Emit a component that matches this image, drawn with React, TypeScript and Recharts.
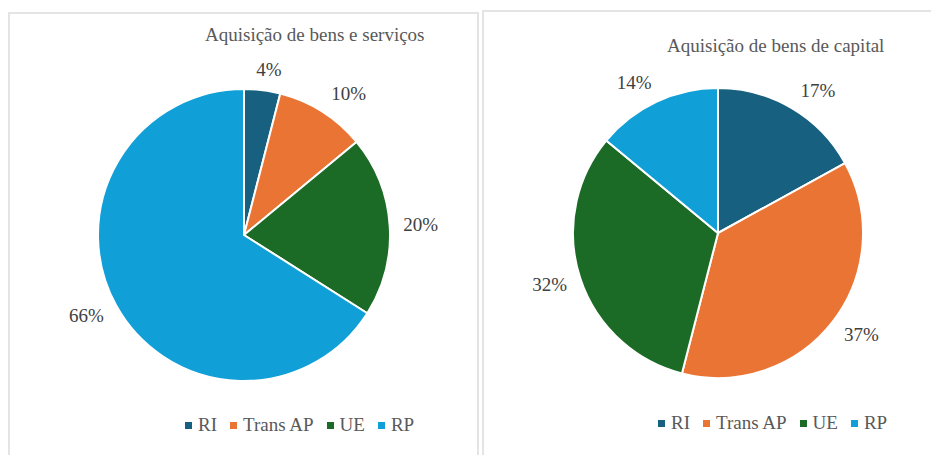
import React from "react";
import { PieChart, Pie, Cell, Legend } from "recharts";

const categories = ["RI", "Trans AP", "UE", "RP"];
const colors = ["#17607f", "#ea7434", "#1b6b26", "#119fd8"];
const servicosValues = [4, 10, 20, 66];
const capitalValues = [17, 37, 32, 14];
const titles = ["Aquisição de bens e serviços", "Aquisição de bens de capital"];

const FONT = "'Times New Roman', 'Liberation Serif', Tinos, Times, 'DejaVu Serif', serif";
const RAD = Math.PI / 180;

const toData = (vals: number[]) => categories.map((name, i) => ({ name, value: vals[i] }));

// Excel-like "outside end" placement: label box sits just beyond the slice edge
const renderLabel = (props: any) => {
  const { cx, cy, midAngle, outerRadius, percent } = props;
  const c = Math.cos(-midAngle * RAD);
  const s = Math.sin(-midAngle * RAD);
  const gap = 10;
  const W = 21;
  const H = 11;
  const ex = cx + (outerRadius + gap) * c;
  const ey = cy + (outerRadius + gap) * s;
  const x = ex + Math.sign(c) * Math.min(1, 2 * Math.abs(c)) * W;
  const y = ey + Math.sign(s) * Math.abs(s) * H;
  return (
    <text x={x} y={y} fill="#404040" style={{ fontFamily: FONT }} fontSize={19} textAnchor="middle" dominantBaseline="central">
      {Math.round(percent * 100)}%
    </text>
  );
};

const LegendContent = () => (
  <div style={{ display: "flex", fontFamily: FONT, fontSize: 19, color: "#595959", whiteSpace: "nowrap" }}>
    {categories.map((c, i) => (
      <span key={c} style={{ display: "inline-flex", alignItems: "center", marginRight: 13 }}>
        <span style={{ width: 7, height: 7, background: colors[i], display: "inline-block", marginRight: 6 }} />
        {c}
      </span>
    ))}
  </div>
);

export default function App() {
  return (
    <div style={{ position: "relative", width: 931, height: 447, overflow: "hidden", background: "#fff" }}>
      <div style={{ position: "absolute", left: 0, top: 4, width: 471, height: 470, border: "2px solid #e4e4e4", boxSizing: "border-box" }} />
      <div style={{ position: "absolute", left: 474, top: 2, width: 470, height: 470, border: "2px solid #e4e4e4", boxSizing: "border-box" }} />
      <div style={{ position: "absolute", left: 0, top: 0 }}>
        <PieChart width={471} height={447}>
          <Pie
            data={toData(servicosValues)}
            dataKey="value"
            nameKey="name"
            cx={231}
            cy={222}
            outerRadius={146}
            startAngle={90}
            endAngle={-270}
            stroke="#fff"
            strokeWidth={2}
            label={renderLabel}
            labelLine={false}
            isAnimationActive={false}
          >
            {categories.map((c, i) => (
              <Cell key={c} fill={colors[i]} />
            ))}
          </Pie>
          <Legend content={<LegendContent />} wrapperStyle={{ left: 177, top: 406, width: "auto" }} />
        </PieChart>
      </div>
      <div style={{ position: "absolute", left: 474, top: 0 }}>
        <PieChart width={457} height={447}>
          <Pie
            data={toData(capitalValues)}
            dataKey="value"
            nameKey="name"
            cx={231}
            cy={220}
            outerRadius={145}
            startAngle={90}
            endAngle={-270}
            stroke="#fff"
            strokeWidth={2}
            label={renderLabel}
            labelLine={false}
            isAnimationActive={false}
          >
            {categories.map((c, i) => (
              <Cell key={c} fill={colors[i]} />
            ))}
          </Pie>
          <Legend content={<LegendContent />} wrapperStyle={{ left: 176, top: 404, width: "auto" }} />
        </PieChart>
      </div>
      <div style={{ position: "absolute", left: 197, top: 16, fontFamily: FONT, fontSize: 19, color: "#595959", whiteSpace: "nowrap" }}>
        {titles[0]}
      </div>
      <div style={{ position: "absolute", left: 659, top: 27, fontFamily: FONT, fontSize: 19, color: "#595959", whiteSpace: "nowrap" }}>
        {titles[1]}
      </div>
    </div>
  );
}
